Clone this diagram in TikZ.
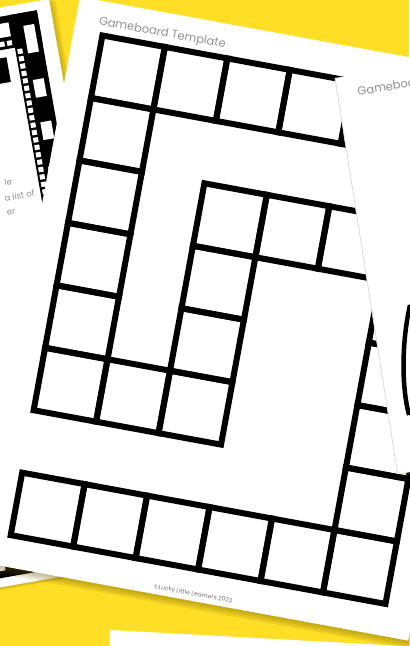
\documentclass[tikz,border=0pt]{standalone}
\usepackage{fontspec}
\setmainfont{Poppins}
\definecolor{boardyellow}{RGB}{254,223,38}
\definecolor{shadowtone}{RGB}{110,85,0}
\definecolor{printgrey}{RGB}{145,145,145}
\tikzset{
  sheet/.style={fill=white},
  sheetshadow/.style={fill=shadowtone, opacity=0.11},
  boardcell/.style={draw=black, line width=6bp},
  filmband/.style={fill=black},
  filmhole/.style={fill=white},
  titletext/.style={text=printgrey, font=\fontsize{11.5bp}{14bp}\selectfont, inner sep=0pt, transform shape},
  credittext/.style={text=printgrey!80!black, font=\fontsize{6bp}{7bp}\selectfont, inner sep=0pt, transform shape},
  notetext/.style={text=printgrey, font=\fontsize{8.5bp}{10bp}\selectfont, inner sep=0pt, anchor=base east, transform shape}
}
\begin{document}
\begin{tikzpicture}[x=1bp, y=-1bp]
  \useasboundingbox (0,0) rectangle (409,646);
  \fill[boardyellow] (0,0) rectangle (409,646);

  % sheet peeking in at the bottom
  \fill[sheet] (110,630) -- (440,648) -- (440,700) -- (108,700) -- cycle;

  % film strip sheet, left
  \begin{scope}[shift={(49,-1)}, rotate=10]
    \foreach \sh in {2,4,6}
      \fill[sheetshadow] (-470+\sh,\sh/2) rectangle (\sh,571+\sh/2);
    \fill[sheet] (-470,0) rectangle (0,571);
    \fill[filmband] (-470,9) rectangle (-14,42);
    \fill[filmband] (-42,9) rectangle (-14,562);
    \fill[filmband] (-470,529) rectangle (-14,562);
    \foreach \a/\b in {22/50, 77/95, 120/138, 165/185}
      \fill[filmhole] (-30,\a) rectangle (-19,\b);
    \foreach \a in {-44,-84,-124}
      \fill[filmhole] (\a,16) rectangle +(-18,14);
    \foreach \a in {-58,-100,-142,-184}
      \fill[filmhole] (\a,541) rectangle +(-26,14);
    \foreach \k in {0,...,50}
      \fill[filmhole] ({-49-7.5*\k},34) rectangle +(5,5);
    \foreach \k in {0,...,64}
      \fill[filmhole] (-40,{44+7.5*\k}) rectangle +(5,5);
    \foreach \k in {0,...,50}
      \fill[filmhole] ({-49-7.5*\k},531) rectangle +(5,5);
    \fill[black] (-65,50) rectangle (-52,75);
    \node[notetext] (noteA) at (-68,176) {le};
    \node[notetext] (noteB) at (-48,192) {a list of};
    \node[notetext] (noteC) at (-70,206) {er};
  \end{scope}

  % main gameboard sheet
  \begin{scope}[shift={(100,32)}, rotate=-10.4]
    \foreach \sh in {2,4,6,8}
      \fill[sheetshadow] (-26+\sh/2,-31+\sh) rectangle (413+\sh/2,543+\sh);
    \fill[sheet] (-26,-31) rectangle (413,543);
    \node[titletext, anchor=base west] (title) at (-3,-7) {Gameboard Template};
    \node[credittext] (credit) at (193,536) {©Lucky Little Learners 2023};
    \begin{scope}[shift={(3,3)}, x=63.5bp, y=-63.5bp]
      \foreach \c/\r in {0/0,1/0,2/0,3/0,4/0,5/0,
                         0/1,0/2,0/3,0/4,0/5,1/5,2/5,
                         2/2,2/3,2/4,3/2,4/2,5/2,
                         5/3,5/4,5/5,5/6,5/7,
                         0/7,1/7,2/7,3/7,4/7}
        \draw[boardcell] (\c,\r) rectangle +(1,1);
    \end{scope}
  \end{scope}

  % second gameboard sheet, right
  \begin{scope}[shift={(335,78)}, rotate=9]
    \foreach \sh in {2,4}
      \fill[sheetshadow] (\sh,\sh) rectangle (200+\sh,401+\sh);
    \fill[sheet] (0,0) rectangle (200,401);
    \draw[black!14, line width=0.8bp] (0,0) -- (0,401);
    \node[titletext, anchor=base west] (titleB) at (20,21) {Gameboard Template};
    \draw[black, line width=4.5bp] (38.6,235.9) .. controls (25.2,269.3) and (17.2,313.5) .. (20.4,344.5);
  \end{scope}
\end{tikzpicture}
\end{document}
